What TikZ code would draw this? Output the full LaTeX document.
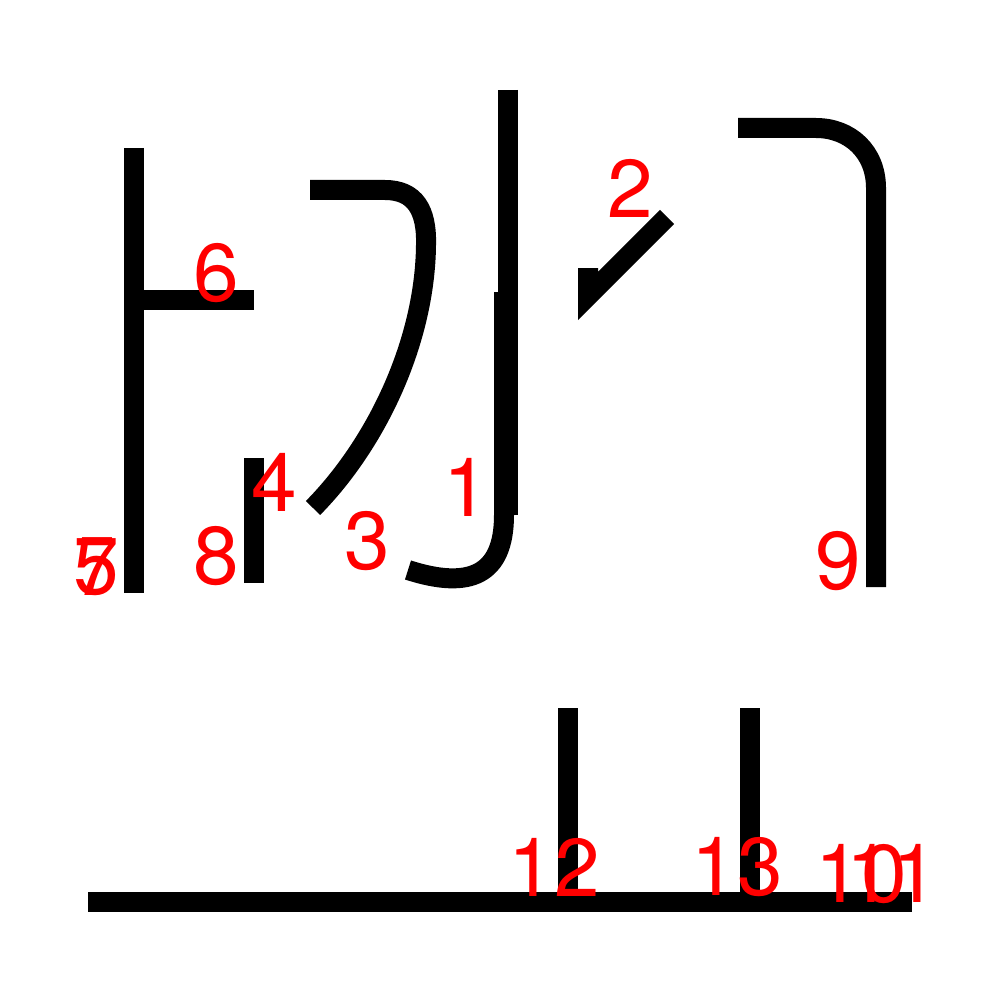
\documentclass[tikz,border=0pt]{standalone}
\usepackage{fontspec}
\setmainfont{TeX Gyre Heros}
\begin{document}
\begin{tikzpicture}[x=1pt,y=-1pt,
  stroke/.style={line width=20pt,line cap=butt,line join=miter,black},
  num/.style={text=red,inner sep=0pt,anchor=center,font=\fontsize{82}{82}\selectfont}]
\useasboundingbox[fill=white] (0,0) rectangle (1000,1000);
% stroke 1
\draw[stroke] (508,90) -- (508,515);
\draw[stroke] (504,292) -- (504,515) .. controls (504,575) and (470,590) .. (408,570);
% stroke 2
\draw[stroke] (588,268) -- (588,296) -- (667,217);
% stroke 3
\draw[stroke] (310,190) -- (385,190) .. controls (415,190) and (427,210) .. (426,245)
  .. controls (425,340) and (378,442) .. (313,508);
% stroke 4
\draw[stroke] (254,458) -- (254,583);
% stroke 5/7 and 6
\draw[stroke] (134,148) -- (134,593);
\draw[stroke] (134,300) -- (254,300);
% stroke 9
\draw[stroke] (738,128) -- (816,128) .. controls (850,128) and (876,152) .. (876,188) -- (876,587);
% stroke 10/11
\draw[stroke] (88,902) -- (912,902);
% strokes 12, 13
\draw[stroke] (568,708) -- (568,902);
\draw[stroke] (750,708) -- (750,902);
% labels
\node[num] (n1) at (466,487) {1};
\node[num] (n2) at (630,188) {2};
\node[num] (n3) at (367,541) {3};
\node[num] (n4) at (274,482) {4};
\node[num] (n5) at (96,567) {5};
\node[num] (n6) at (216,273) {6};
\node[num] (n7) at (96,567) {7};
\node[num] (n8) at (216,556) {8};
\node[num] (n9) at (838,561) {9};
\node[num] (n10) at (861,874) {10};
\node[num] (n11) at (892,873) {11};
\node[num] (n12) at (554,867) {12};
\node[num] (n13) at (737,867) {13};
\end{tikzpicture}
\end{document}
